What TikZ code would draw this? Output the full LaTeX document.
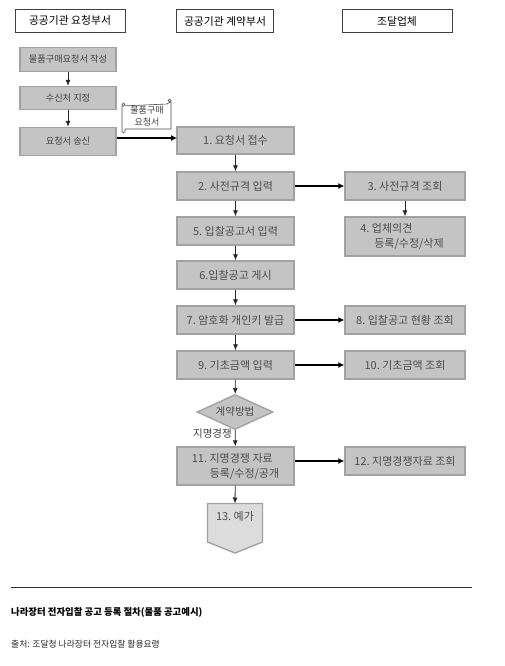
\documentclass[tikz,border=0pt]{standalone}
\usepackage{fontspec}
\setmainfont{Noto Sans CJK KR}
\usetikzlibrary{arrows.meta,shapes.geometric}
\definecolor{boxfill}{HTML}{C4C4C4}
\definecolor{boxline}{HTML}{A2A2A2}
\tikzset{
  x=1pt,y=1pt,
  hdr/.style={draw=black!75,line width=0.8pt,fill=white,minimum width=#1,minimum height=23pt,inner sep=0pt,font=\fontsize{10.8}{12}\selectfont\color{black}},
  gbox/.style n args={2}{draw=boxline,line width=1.4pt,fill=boxfill,minimum width=#1,minimum height=#2,inner sep=0pt,font=\fontsize{11}{15}\selectfont\color{black!70},align=left},
  smalltxt/.style={font=\fontsize{9.2}{10}\selectfont\color{black!75}},
  arr/.style={draw=black!85,line width=0.8pt,-{Latex[length=6pt,width=5pt]}},
  harr/.style={draw=black,line width=1.1pt,-{Latex[length=6pt,width=6pt]}},
}
\begin{document}
\begin{tikzpicture}
\useasboundingbox (0,0) rectangle (505,-666);
% headers
\node[hdr=110pt] (h1) at (70,-20.5) {공공기관 요청부서};
\node[hdr=97pt] (h2) at (225,-21) {공공기관 계약부서};
\node[hdr=110pt] (h3) at (397,-21) {조달업체};
% left column
\node[gbox={96pt}{24pt},smalltxt] (a) at (68,-59.5) {물품구매요청서 작성};
\node[gbox={96pt}{23pt},smalltxt] (b) at (68,-98) {수신처 지정};
\node[gbox={96pt}{28pt},smalltxt] (c) at (68,-141.5) {요청서 송신};
% middle column
\node[gbox={117pt}{27pt}] (n1) at (235.5,-140.5) {1.\ 요청서 접수};
\node[gbox={117pt}{28pt}] (n2) at (235.5,-186) {2.\ 사전규격 입력};
\node[gbox={117pt}{28pt}] (n5) at (235.5,-231) {5.\ 입찰공고서 입력};
\node[gbox={117pt}{28pt}] (n6) at (235.5,-275) {6.입찰공고 게시};
\node[gbox={117pt}{28pt}] (n7) at (235.5,-320) {7.\ 암호화 개인키 발급};
\node[gbox={117pt}{28pt}] (n9) at (235.5,-365) {9.\ 기초금액 입력};
\node[diamond,aspect=2.1,draw=boxline,line width=1.4pt,fill=boxfill,minimum width=76pt,minimum height=35pt,inner sep=0pt,font=\fontsize{10.5}{10}\selectfont\color{black!70}] (d) at (235,-412) {계약방법};
\node[gbox={117pt}{38pt},align=left] (n11) at (235.5,-466) {11.\ 지명경쟁 자료\\\hspace*{18pt}등록/수정/공개};
% offpage connector
\draw[draw=boxline,line width=1.4pt,fill=boxfill!60!white] (207.5,-503.5) -- (262.5,-503.5) -- (262.5,-542) -- (235,-553) -- (207.5,-542) -- cycle;
\node[font=\fontsize{11}{12}\selectfont\color{black!70},inner sep=0pt] (n13) at (235,-516) {13.\ 예가};
\coordinate (n13top) at (235,-503.5);
% right column
\node[gbox={120pt}{28pt}] (n3) at (405,-186) {3.\ 사전규격 조회};
\node[gbox={120pt}{39pt}] (n4) at (405,-236.5) {\hspace*{-6pt}4.\ 업체의견\\\hspace*{8pt}등록/수정/삭제};
\node[gbox={120pt}{28pt}] (n8) at (405,-320) {8.\ 입찰공고 현황 조회};
\node[gbox={120pt}{28pt}] (n10) at (405,-365) {10.\ 기초금액 조회};
\node[gbox={120pt}{28pt}] (n12) at (405,-461) {12.\ 지명경쟁자료 조회};
% scroll
\draw[draw=black!70,line width=0.6pt,fill=white] (122,-106) -- (167,-104) -- (171,-101.5) -- (171,-129) -- (125,-129) -- (125,-131.5) arc (0:-180:1.5) -- cycle;
\draw[draw=black!70,line width=0.5pt,fill=white] (123.5,-104.5) circle (1.6);
\draw[draw=black!70,line width=0.5pt,fill=white] (169.5,-100.5) circle (1.6);
\node[font=\fontsize{9}{12}\selectfont\color{black!75},align=center,inner sep=0pt] (scr) at (147,-116.5) {물품구매\\요청서};
% connectors
\draw[arr] (a) -- (b);
\draw[arr] (b) -- (c);
\coordinate (s1) at (116.5,-138);
\coordinate (s2) at (177,-138);
\draw[harr] (s1) -- (s2);
\draw[arr] (n1) -- (n2);
\draw[arr] (n2) -- (n5);
\draw[arr] (n5) -- (n6);
\draw[arr] (n6) -- (n7);
\draw[arr] (n7) -- (n9);
\draw[arr] (n9) -- (d);
\draw[arr] (d) -- (n11);
\draw[arr] (n11) -- (n13top);
\draw[harr] (n2) -- (n3);
\draw[arr] (n3) -- (n4);
\draw[harr] (n7) -- (n8);
\draw[harr] (n9) -- (n10);
\draw[harr] (n11.east |- n12) -- (n12);
\node[anchor=east,font=\fontsize{10.5}{10}\selectfont\color{black!75},inner sep=0pt] (lab) at (232,-434) {지명경쟁};
% footer
\coordinate (r1) at (11,-587);
\coordinate (r2) at (472,-587);
\draw[black!80,line width=0.8pt] (r1) -- (r2);
\node[anchor=west,font=\fontsize{9.4}{10}\selectfont\bfseries,inner sep=0pt] (t1) at (11,-612) {나라장터 전자입찰 공고 등록 절차(물품 공고예시)};
\node[anchor=west,font=\fontsize{8.8}{10}\selectfont\color{black!85},inner sep=0pt] (t2) at (11,-644) {출처: 조달청 나라장터 전자입찰 활용요령};
\end{tikzpicture}
\end{document}
